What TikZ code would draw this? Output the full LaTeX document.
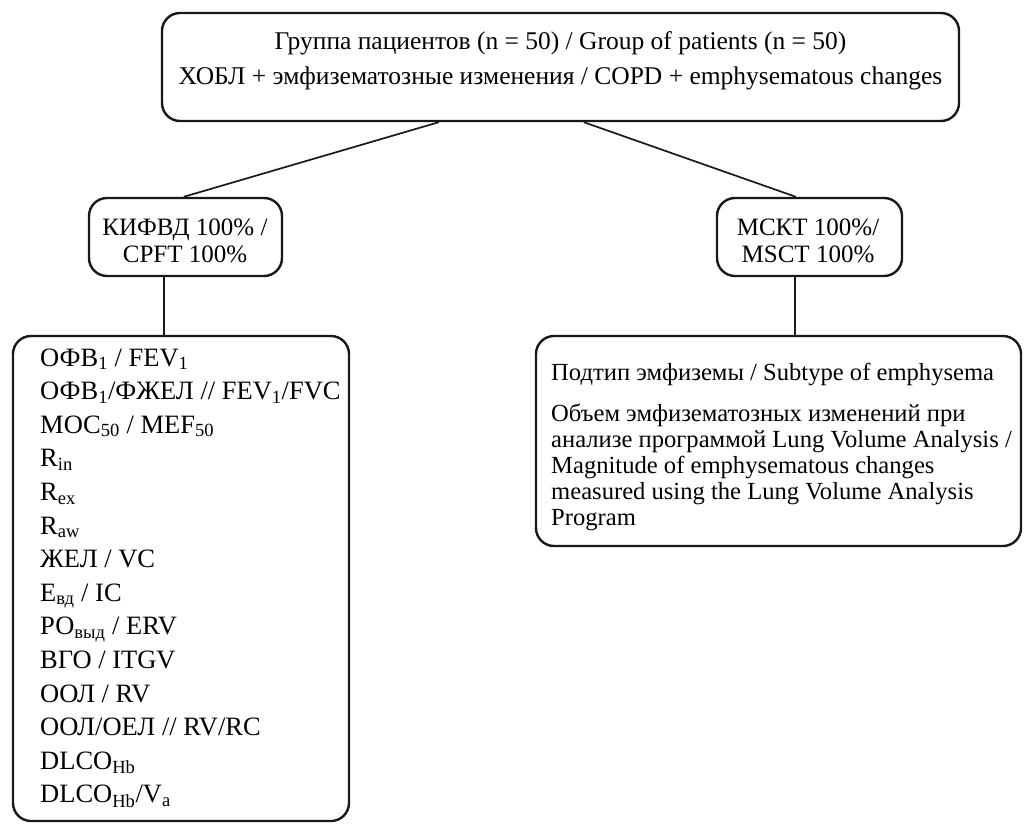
\documentclass[tikz,border=0pt]{standalone}
\usepackage{fontspec}
\setmainfont{Liberation Serif}
\usetikzlibrary{positioning}
\tikzset{
  frame/.style={draw=black!90, line width=2.4pt, rounded corners=18pt, inner sep=0pt},
  link/.style={draw=black!90, line width=1.7pt},
  caption/.style={inner sep=0pt, anchor=base},
  entry/.style={inner sep=0pt, anchor=base west},
}
\newcommand{\ix}[1]{\textsubscript{#1}}

\begin{document}
\begin{tikzpicture}[x=1pt,y=-1pt,font=\fontsize{25.5}{27}\selectfont]
\useasboundingbox (0,0) rectangle (1024,824);

% Boxes
\node[frame, minimum width=797pt, minimum height=108pt] (group) at (560.5,67) {};
\node[frame, minimum width=193pt, minimum height=78pt] (cpft) at (185.5,237) {};
\node[frame, minimum width=185pt, minimum height=78pt] (msct) at (809.5,237) {};
\node[frame, minimum width=336pt, minimum height=485pt] (pft) at (181,578.5) {};
\node[frame, minimum width=485pt, minimum height=210pt] (lva) at (778.5,441) {};

% Captions
\node[caption] (group-1) at (560.5,50) {Группа пациентов (n = 50) / Group of patients (n = 50)};
\node[caption] (group-2) at (560.5,85) {ХОБЛ + эмфизематозные изменения / COPD + emphysematous changes};
\begin{scope}[font=\fontsize{25}{27}\selectfont]
\node[caption] (cpft-1) at (185,235) {КИФВД 100\% /};
\node[caption] (cpft-2) at (185,262) {CPFT 100\%};
\node[caption] (msct-1) at (808,235) {МСКТ 100\%/};
\node[caption] (msct-2) at (808,262) {MSCT 100\%};
\end{scope}

% Lists
\foreach \txt [count=\i from 0] in {ОФВ\ix{1} / FEV\ix{1}, ОФВ\ix{1}/ФЖЕЛ // FEV\ix{1}/FVC, МОС\ix{50} / MEF\ix{50}, R\ix{in}, R\ix{ex}, R\ix{aw}, ЖЕЛ / VC, Е\ix{вд} / IC, РО\ix{выд} / ERV, ВГО / ITGV, ООЛ / RV, ООЛ/ОЕЛ // RV/RC, DLCO\ix{Hb}, DLCO\ix{Hb}/V\ix{a}}
  \node[entry, font=\fontsize{26.5}{27}\selectfont] (pft-\i) at (40,{366+33.6*\i}) {\txt};

\begin{scope}[font=\fontsize{24.6}{27}\selectfont]
\node[entry] (lva-1) at (551,380) {Подтип эмфиземы / Subtype of emphysema};
\foreach \txt [count=\i from 2] in {Объем эмфизематозных изменений при, анализе программой Lung Volume Analysis /, Magnitude of emphysematous changes, measured using the Lung Volume Analysis, Program}
  \node[entry] (lva-\i) at (551,{421+26*(\i-2)}) {\txt};
\end{scope}

% Connectors
\draw[link] ([xshift=278pt]group.south west) -- ([xshift=96pt]cpft.north west);
\draw[link] ([xshift=423pt]group.south west) -- ([xshift=80pt]msct.north west);
\draw[link] ([xshift=76pt]cpft.south west) -- ([xshift=152pt]pft.north west);
\draw[link] ([xshift=79pt]msct.south west) -- ([xshift=260pt]lva.north west);
\end{tikzpicture}
\end{document}
